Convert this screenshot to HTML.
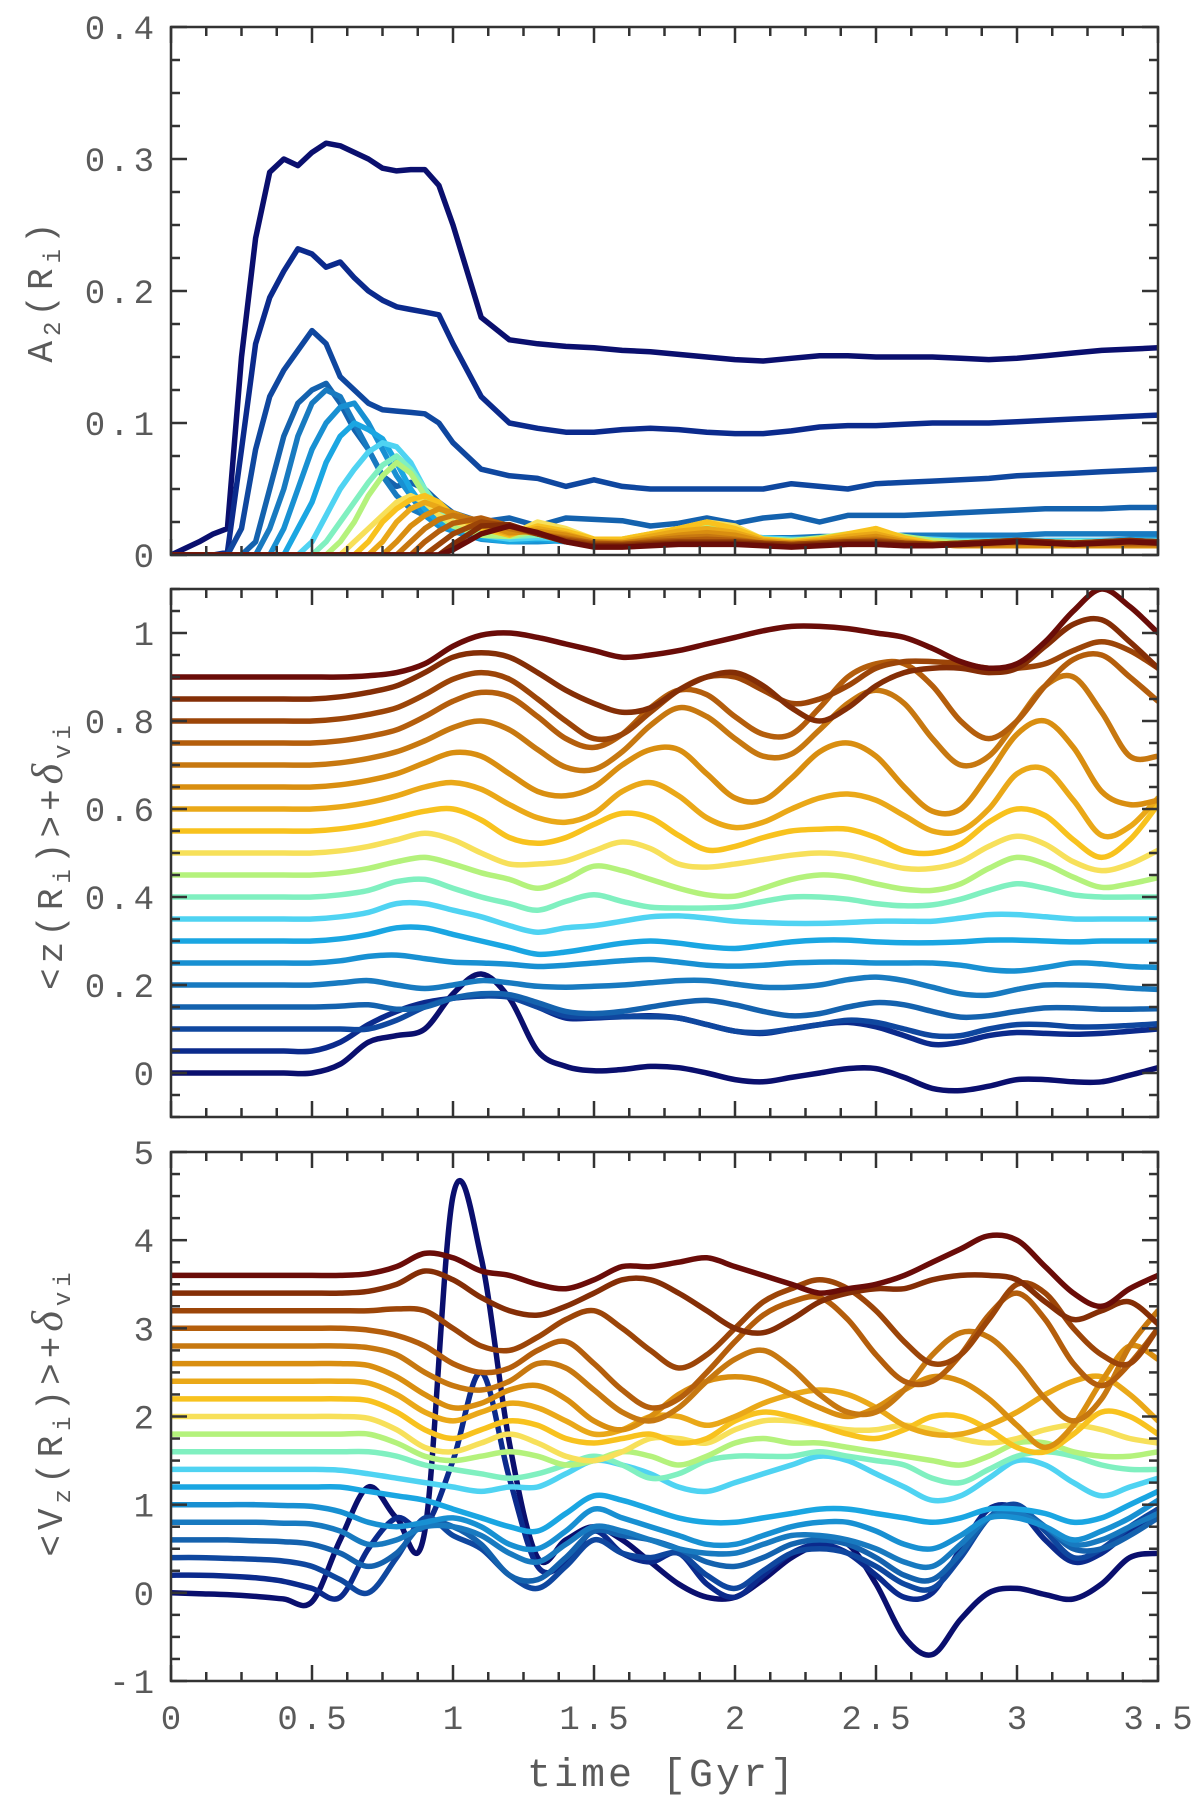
<!DOCTYPE html>
<html><head><meta charset="utf-8"><style>
html,body{margin:0;padding:0;background:#fff;}
svg{display:block;}
text{font-family:"Liberation Mono",monospace;fill:#5a5a5a;}
</style></head><body>
<svg id="chart" width="1200" height="1797" viewBox="0 0 1200 1797" xmlns="http://www.w3.org/2000/svg">
<defs>
<clipPath id="c1"><rect x="171" y="27" width="987" height="528"/></clipPath>
<clipPath id="c2"><rect x="171" y="589" width="987" height="528"/></clipPath>
<clipPath id="c3"><rect x="171" y="1152" width="987" height="529"/></clipPath>
</defs>
<g id="p1"></g>
<g id="p2"></g>
<g id="p3"></g>
<text transform="translate(52,290) rotate(-90)" text-anchor="middle" font-size="36" letter-spacing="5">A<tspan font-size="24" dy="8">2</tspan><tspan dy="-8">(R</tspan><tspan font-size="24" dy="8">i</tspan><tspan dy="-8">)</tspan></text>
<text transform="translate(62,855) rotate(-90)" text-anchor="middle" font-size="36" letter-spacing="5">&lt;z(R<tspan font-size="24" dy="8">i</tspan><tspan dy="-8">)&gt;+</tspan><tspan font-family="Liberation Serif, serif" font-style="italic" font-size="44">δ</tspan><tspan font-size="24" dy="8">vi</tspan></text>
<text transform="translate(62,1412) rotate(-90)" text-anchor="middle" font-size="36" letter-spacing="5">&lt;V<tspan font-size="24" dy="8">z</tspan><tspan dy="-8">(R</tspan><tspan font-size="24" dy="8">i</tspan><tspan dy="-8">)&gt;+</tspan><tspan font-family="Liberation Serif, serif" font-style="italic" font-size="44">δ</tspan><tspan font-size="24" dy="8">vi</tspan></text>
<text x="662" y="1786" text-anchor="middle" font-size="40" letter-spacing="3">time [Gyr]</text>
</svg>
<script>
// ---------- data ----------
const T1 = [0,0.05,0.1,0.15,0.2,0.25,0.3,0.35,0.4,0.45,0.5,0.55,0.6,0.65,0.7,0.75,0.8,0.85,0.9,0.95,1.0,1.1,1.2,1.3,1.4,1.5,1.6,1.7,1.8,1.9,2.0,2.1,2.2,2.3,2.4,2.5,2.6,2.7,2.8,2.9,3.0,3.1,3.2,3.3,3.4,3.5];
const T = [0,0.1,0.2,0.3,0.4,0.5,0.6,0.7,0.8,0.9,1.0,1.1,1.2,1.3,1.4,1.5,1.6,1.7,1.8,1.9,2.0,2.1,2.2,2.3,2.4,2.5,2.6,2.7,2.8,2.9,3.0,3.1,3.2,3.3,3.4,3.5];

const a2_0 = [0,0.005,0.01,0.016,0.02,0.15,0.24,0.29,0.3,0.295,0.305,0.312,0.31,0.305,0.3,0.293,0.291,0.292,0.292,0.28,0.25,0.18,0.163,0.16,0.158,0.157,0.155,0.154,0.152,0.15,0.148,0.147,0.149,0.151,0.151,0.15,0.15,0.15,0.149,0.148,0.149,0.151,0.153,0.155,0.156,0.157];
const a2_1 = [0,0,0,0,0.002,0.08,0.16,0.195,0.215,0.232,0.228,0.218,0.222,0.21,0.2,0.193,0.188,0.186,0.184,0.182,0.16,0.12,0.1,0.096,0.093,0.093,0.095,0.096,0.095,0.093,0.092,0.092,0.094,0.097,0.098,0.098,0.099,0.1,0.1,0.1,0.101,0.102,0.103,0.104,0.105,0.106];
const a2_2 = [0,0,0,0,0,0.02,0.08,0.12,0.14,0.155,0.17,0.16,0.135,0.125,0.115,0.11,0.109,0.108,0.107,0.1,0.085,0.065,0.06,0.058,0.052,0.057,0.052,0.05,0.05,0.05,0.05,0.05,0.054,0.052,0.05,0.054,0.055,0.056,0.057,0.058,0.06,0.061,0.062,0.063,0.064,0.065];
const a2_3 = [0,0,0,0,0,0,0.01,0.05,0.09,0.115,0.125,0.13,0.115,0.095,0.08,0.06,0.052,0.055,0.05,0.04,0.032,0.025,0.028,0.022,0.028,0.027,0.026,0.022,0.024,0.028,0.024,0.028,0.03,0.025,0.03,0.03,0.03,0.031,0.032,0.033,0.034,0.035,0.035,0.035,0.036,0.036];
const a2_4 = [0,0,0,0,0,0,0,0.02,0.05,0.09,0.115,0.125,0.12,0.1,0.08,0.06,0.045,0.035,0.03,0.025,0.02,0.015,0.012,0.012,0.013,0.012,0.012,0.013,0.012,0.013,0.014,0.013,0.013,0.014,0.014,0.014,0.015,0.015,0.015,0.015,0.015,0.016,0.016,0.016,0.016,0.016];
const a2_5 = [0,0,0,0,0,0,0,0,0.02,0.05,0.08,0.1,0.112,0.115,0.1,0.08,0.06,0.045,0.03,0.022,0.018,0.012,0.01,0.01,0.011,0.01,0.01,0.01,0.011,0.012,0.011,0.01,0.01,0.01,0.011,0.011,0.01,0.01,0.01,0.01,0.011,0.011,0.011,0.011,0.012,0.012];
const a2_6 = [0,0,0,0,0,0,0,0,0,0.02,0.04,0.07,0.09,0.1,0.095,0.088,0.07,0.05,0.035,0.025,0.02,0.013,0.01,0.012,0.01,0.009,0.01,0.01,0.012,0.013,0.012,0.01,0.01,0.012,0.013,0.012,0.01,0.01,0.01,0.011,0.011,0.01,0.01,0.011,0.011,0.011];
const a2_7 = [0,0,0,0,0,0,0,0,0,0,0.01,0.03,0.05,0.065,0.078,0.085,0.082,0.07,0.05,0.035,0.025,0.015,0.012,0.013,0.012,0.012,0.012,0.013,0.014,0.015,0.015,0.013,0.012,0.012,0.013,0.014,0.013,0.012,0.011,0.011,0.011,0.011,0.011,0.011,0.011,0.011];
const a2_8 = [0,0,0,0,0,0,0,0,0,0,0,0.01,0.025,0.04,0.055,0.068,0.075,0.065,0.05,0.035,0.025,0.016,0.014,0.015,0.013,0.011,0.012,0.014,0.016,0.017,0.015,0.012,0.011,0.012,0.014,0.015,0.013,0.011,0.01,0.01,0.01,0.01,0.01,0.01,0.01,0.01];
const a2_9 = [0,0,0,0,0,0,0,0,0,0,0,0,0.01,0.025,0.045,0.06,0.07,0.062,0.045,0.03,0.022,0.015,0.014,0.018,0.015,0.011,0.012,0.016,0.02,0.022,0.018,0.012,0.011,0.013,0.016,0.018,0.014,0.011,0.009,0.009,0.009,0.009,0.009,0.009,0.009,0.009];
const a2_10 = [0,0,0,0,0,0,0,0,0,0,0,0,0,0.01,0.02,0.03,0.04,0.045,0.04,0.03,0.025,0.02,0.015,0.025,0.02,0.012,0.012,0.016,0.02,0.025,0.022,0.012,0.01,0.012,0.015,0.02,0.012,0.009,0.008,0.008,0.008,0.008,0.008,0.008,0.008,0.008];
const a2_11 = [0,0,0,0,0,0,0,0,0,0,0,0,0,0,0.01,0.025,0.035,0.042,0.045,0.04,0.03,0.02,0.015,0.022,0.018,0.012,0.012,0.016,0.02,0.025,0.02,0.012,0.01,0.012,0.016,0.02,0.013,0.009,0.008,0.008,0.008,0.008,0.008,0.008,0.008,0.008];
const a2_12 = [0,0,0,0,0,0,0,0,0,0,0,0,0,0,0,0.01,0.025,0.035,0.04,0.036,0.03,0.022,0.016,0.02,0.016,0.01,0.01,0.014,0.018,0.02,0.017,0.011,0.009,0.011,0.014,0.016,0.011,0.008,0.007,0.007,0.007,0.007,0.007,0.007,0.007,0.007];
const a2_13 = [0,0,0,0,0,0,0,0,0,0,0,0,0,0,0,0,0.01,0.022,0.03,0.035,0.032,0.024,0.017,0.018,0.015,0.01,0.009,0.012,0.015,0.017,0.015,0.01,0.009,0.01,0.012,0.014,0.01,0.008,0.007,0.007,0.007,0.007,0.007,0.007,0.007,0.007];
const a2_14 = [0,0,0,0,0,0,0,0,0,0,0,0,0,0,0,0,0,0.01,0.02,0.027,0.03,0.026,0.02,0.016,0.013,0.009,0.009,0.011,0.013,0.014,0.012,0.009,0.008,0.009,0.011,0.012,0.009,0.008,0.007,0.008,0.009,0.009,0.008,0.008,0.008,0.008];
const a2_15 = [0,0,0,0,0,0,0,0,0,0,0,0,0,0,0,0,0,0,0.01,0.018,0.024,0.028,0.022,0.016,0.012,0.009,0.008,0.01,0.011,0.012,0.011,0.009,0.008,0.009,0.01,0.011,0.009,0.008,0.008,0.009,0.01,0.01,0.009,0.009,0.009,0.009];
const a2_16 = [0,0,0,0,0,0,0,0,0,0,0,0,0,0,0,0,0,0,0,0.008,0.016,0.025,0.022,0.016,0.011,0.008,0.008,0.009,0.01,0.01,0.01,0.009,0.008,0.009,0.01,0.01,0.009,0.008,0.009,0.01,0.011,0.01,0.009,0.01,0.011,0.01];
const a2_17 = [0,0,0,0,0,0,0,0,0,0,0,0,0,0,0,0,0,0,0,0,0.008,0.022,0.023,0.016,0.01,0.007,0.007,0.008,0.009,0.009,0.009,0.008,0.007,0.008,0.009,0.009,0.008,0.008,0.009,0.01,0.011,0.01,0.009,0.01,0.011,0.01];
const a2_18 = [0,0,0,0,0,0,0,0,0,0,0,0,0,0,0,0,0,0,0,0,0.004,0.016,0.022,0.017,0.01,0.006,0.006,0.007,0.008,0.008,0.008,0.007,0.006,0.007,0.008,0.008,0.007,0.007,0.008,0.009,0.01,0.009,0.008,0.009,0.01,0.009];

const z_0 = [0,0,0,0,0,0,0.02,0.07,0.085,0.1,0.18,0.225,0.17,0.05,0.015,0.005,0.008,0.015,0.012,0,-0.015,-0.02,-0.01,0,0.01,0.01,-0.01,-0.035,-0.04,-0.03,-0.015,-0.015,-0.02,-0.02,-0.005,0.012];
const z_1 = [0.05,0.05,0.05,0.05,0.05,0.05,0.07,0.11,0.14,0.16,0.17,0.175,0.175,0.15,0.125,0.125,0.128,0.13,0.125,0.11,0.095,0.09,0.1,0.11,0.115,0.105,0.085,0.065,0.07,0.085,0.092,0.09,0.088,0.09,0.095,0.1];
const z_2 = [0.1,0.1,0.1,0.1,0.1,0.1,0.1,0.1,0.12,0.15,0.17,0.175,0.172,0.15,0.13,0.128,0.128,0.128,0.125,0.11,0.095,0.092,0.1,0.11,0.12,0.115,0.1,0.085,0.085,0.1,0.11,0.11,0.105,0.105,0.108,0.112];
const z_3 = [0.15,0.15,0.15,0.15,0.15,0.15,0.152,0.155,0.145,0.15,0.17,0.18,0.178,0.16,0.14,0.135,0.14,0.15,0.16,0.165,0.155,0.14,0.13,0.135,0.15,0.16,0.155,0.14,0.127,0.13,0.14,0.148,0.148,0.145,0.145,0.146];
const z_4 = [0.2,0.2,0.2,0.2,0.2,0.2,0.205,0.21,0.2,0.192,0.2,0.21,0.205,0.197,0.195,0.197,0.2,0.205,0.21,0.21,0.202,0.195,0.195,0.2,0.212,0.218,0.21,0.195,0.18,0.177,0.19,0.2,0.2,0.198,0.193,0.19];
const z_5 = [0.25,0.25,0.25,0.25,0.25,0.25,0.255,0.265,0.268,0.26,0.252,0.25,0.247,0.242,0.245,0.25,0.255,0.258,0.252,0.245,0.243,0.245,0.25,0.252,0.252,0.25,0.25,0.25,0.245,0.235,0.232,0.24,0.25,0.248,0.242,0.24];
const z_6 = [0.3,0.3,0.3,0.3,0.3,0.3,0.305,0.315,0.33,0.33,0.315,0.3,0.285,0.27,0.275,0.285,0.295,0.3,0.295,0.287,0.283,0.29,0.298,0.302,0.302,0.298,0.296,0.296,0.298,0.302,0.302,0.3,0.298,0.3,0.3,0.3];
const z_7 = [0.35,0.35,0.35,0.35,0.35,0.35,0.355,0.365,0.385,0.385,0.37,0.355,0.335,0.32,0.33,0.335,0.345,0.355,0.357,0.352,0.345,0.342,0.34,0.34,0.342,0.345,0.345,0.345,0.352,0.36,0.36,0.355,0.35,0.35,0.35,0.35];
const z_8 = [0.4,0.4,0.4,0.4,0.4,0.4,0.405,0.415,0.435,0.44,0.42,0.4,0.385,0.37,0.39,0.405,0.39,0.377,0.375,0.375,0.378,0.39,0.4,0.4,0.395,0.385,0.38,0.382,0.395,0.415,0.43,0.42,0.405,0.4,0.4,0.4];
const z_9 = [0.45,0.45,0.45,0.45,0.45,0.45,0.455,0.465,0.48,0.49,0.475,0.455,0.44,0.42,0.44,0.47,0.46,0.44,0.42,0.405,0.402,0.42,0.44,0.45,0.445,0.43,0.418,0.415,0.43,0.465,0.49,0.475,0.445,0.422,0.43,0.444];
const z_10 = [0.5,0.5,0.5,0.5,0.5,0.5,0.505,0.515,0.53,0.545,0.53,0.5,0.475,0.475,0.482,0.505,0.525,0.51,0.475,0.468,0.475,0.485,0.495,0.5,0.495,0.48,0.465,0.465,0.48,0.515,0.538,0.52,0.48,0.46,0.475,0.506];
const z_11 = [0.55,0.55,0.55,0.55,0.55,0.55,0.555,0.565,0.58,0.595,0.6,0.575,0.535,0.522,0.535,0.565,0.59,0.58,0.54,0.507,0.515,0.535,0.55,0.554,0.554,0.535,0.505,0.5,0.52,0.57,0.6,0.585,0.53,0.49,0.53,0.61];
const z_12 = [0.6,0.6,0.6,0.6,0.6,0.6,0.605,0.615,0.63,0.65,0.66,0.645,0.61,0.58,0.57,0.59,0.64,0.66,0.63,0.58,0.558,0.57,0.6,0.625,0.634,0.62,0.585,0.55,0.55,0.6,0.68,0.69,0.62,0.54,0.56,0.625];
const z_13 = [0.65,0.65,0.65,0.65,0.65,0.65,0.655,0.665,0.68,0.705,0.728,0.72,0.68,0.64,0.63,0.65,0.7,0.735,0.735,0.68,0.625,0.62,0.67,0.73,0.75,0.72,0.65,0.595,0.6,0.68,0.77,0.8,0.74,0.64,0.61,0.62];
const z_14 = [0.7,0.7,0.7,0.7,0.7,0.7,0.705,0.715,0.73,0.755,0.785,0.8,0.78,0.735,0.695,0.69,0.73,0.79,0.83,0.81,0.76,0.72,0.725,0.78,0.84,0.87,0.84,0.76,0.7,0.72,0.8,0.88,0.9,0.82,0.72,0.72];
const z_15 = [0.75,0.75,0.75,0.75,0.75,0.75,0.755,0.765,0.78,0.81,0.845,0.865,0.855,0.81,0.76,0.74,0.77,0.83,0.87,0.86,0.81,0.77,0.77,0.83,0.9,0.93,0.93,0.88,0.8,0.76,0.8,0.88,0.94,0.95,0.9,0.845];
const z_16 = [0.8,0.8,0.8,0.8,0.8,0.8,0.805,0.815,0.83,0.86,0.895,0.91,0.895,0.85,0.8,0.76,0.77,0.82,0.87,0.9,0.9,0.87,0.84,0.85,0.88,0.92,0.935,0.935,0.93,0.92,0.92,0.93,0.96,0.98,0.96,0.92];
const z_17 = [0.85,0.85,0.85,0.85,0.85,0.85,0.855,0.865,0.88,0.91,0.945,0.955,0.945,0.91,0.87,0.84,0.82,0.83,0.87,0.9,0.91,0.88,0.83,0.8,0.83,0.88,0.91,0.92,0.92,0.91,0.92,0.97,1.02,1.03,0.98,0.92];
const z_18 = [0.9,0.9,0.9,0.9,0.9,0.9,0.9,0.903,0.91,0.93,0.97,0.995,1.0,0.99,0.975,0.96,0.945,0.95,0.96,0.975,0.99,1.005,1.015,1.015,1.01,1.0,0.99,0.965,0.935,0.92,0.93,0.98,1.05,1.1,1.06,1.0];

const vz_0 = [0,-0.01,-0.02,-0.04,-0.07,-0.1,0.6,1.2,0.85,0.7,4.5,3.8,1.7,0.4,0.6,0.75,0.6,0.35,0.1,-0.05,-0.05,0.15,0.4,0.55,0.55,0.1,-0.5,-0.7,-0.3,0.0,0.05,-0.02,-0.07,0.1,0.4,0.45];
const vz_1 = [0.2,0.2,0.19,0.17,0.13,0.05,-0.05,0.5,0.85,0.75,1.5,2.5,1.3,0.3,0.35,0.7,0.45,0.35,0.45,0.1,-0.05,0.2,0.45,0.55,0.45,0.2,-0.05,0.0,0.5,0.95,0.95,0.6,0.35,0.45,0.7,0.9];
const vz_2 = [0.4,0.4,0.39,0.38,0.36,0.3,0.15,0.0,0.4,0.85,0.65,0.5,0.2,0.05,0.3,0.6,0.45,0.4,0.45,0.2,0.05,0.25,0.45,0.5,0.45,0.3,0.1,0.05,0.4,0.85,1.0,0.7,0.4,0.5,0.75,0.95];
const vz_3 = [0.6,0.6,0.6,0.59,0.58,0.55,0.45,0.3,0.45,0.8,0.75,0.55,0.2,0.15,0.4,0.7,0.65,0.6,0.5,0.35,0.3,0.4,0.55,0.6,0.55,0.4,0.2,0.15,0.45,0.85,0.95,0.75,0.5,0.5,0.65,0.85];
const vz_4 = [0.8,0.8,0.8,0.8,0.79,0.78,0.7,0.55,0.6,0.75,0.75,0.65,0.45,0.35,0.55,0.75,0.7,0.6,0.5,0.45,0.45,0.55,0.65,0.65,0.6,0.5,0.35,0.3,0.55,0.85,0.9,0.75,0.55,0.6,0.75,0.9];
const vz_5 = [1.0,1.0,1.0,1.0,0.99,0.98,0.92,0.8,0.75,0.8,0.85,0.75,0.55,0.5,0.7,0.95,0.85,0.75,0.65,0.55,0.55,0.65,0.75,0.8,0.8,0.7,0.55,0.5,0.65,0.85,0.85,0.75,0.6,0.7,0.85,1.05];
const vz_6 = [1.2,1.2,1.2,1.2,1.2,1.2,1.2,1.15,1.1,1.05,0.95,0.85,0.75,0.7,0.9,1.1,1.05,0.95,0.85,0.8,0.8,0.85,0.9,0.95,0.95,0.9,0.85,0.8,0.85,0.95,0.95,0.9,0.8,0.85,1.0,1.15];
const vz_7 = [1.4,1.4,1.4,1.4,1.4,1.4,1.39,1.35,1.3,1.25,1.2,1.15,1.2,1.2,1.35,1.5,1.45,1.35,1.2,1.15,1.25,1.35,1.45,1.55,1.5,1.35,1.2,1.05,1.1,1.3,1.5,1.45,1.25,1.1,1.2,1.3];
const vz_8 = [1.6,1.6,1.6,1.6,1.6,1.6,1.6,1.6,1.55,1.45,1.4,1.35,1.3,1.35,1.45,1.55,1.45,1.3,1.35,1.5,1.55,1.55,1.55,1.6,1.55,1.5,1.45,1.3,1.25,1.4,1.55,1.6,1.55,1.45,1.4,1.4];
const vz_9 = [1.8,1.8,1.8,1.8,1.8,1.8,1.8,1.8,1.7,1.55,1.5,1.55,1.6,1.55,1.45,1.5,1.6,1.55,1.45,1.55,1.7,1.75,1.7,1.7,1.65,1.6,1.55,1.5,1.45,1.55,1.7,1.7,1.6,1.55,1.55,1.6];
const vz_10 = [2.0,2.0,2.0,2.0,2.0,2.0,2.0,1.98,1.85,1.65,1.6,1.7,1.8,1.7,1.55,1.5,1.6,1.75,1.75,1.7,1.85,1.95,1.95,1.9,1.85,1.85,1.9,1.85,1.75,1.7,1.75,1.85,1.9,1.85,1.75,1.7];
const vz_11 = [2.2,2.2,2.2,2.2,2.2,2.2,2.2,2.18,2.05,1.85,1.75,1.85,1.95,1.9,1.75,1.7,1.75,1.8,1.7,1.75,1.95,2.05,2.0,1.9,1.8,1.75,1.85,2.0,2.0,1.85,1.65,1.6,1.8,2.05,2.0,1.8];
const vz_12 = [2.4,2.4,2.4,2.4,2.4,2.4,2.4,2.38,2.25,2.05,1.95,2.05,2.15,2.1,1.95,1.8,1.85,2.0,2.0,1.9,2.0,2.15,2.25,2.3,2.25,2.1,1.9,1.8,1.8,1.9,2.05,2.25,2.4,2.45,2.25,1.95];
const vz_13 = [2.6,2.6,2.6,2.6,2.6,2.6,2.6,2.58,2.45,2.25,2.1,2.15,2.3,2.35,2.2,1.95,1.85,2.0,2.25,2.4,2.45,2.4,2.25,2.1,2.0,2.1,2.3,2.45,2.4,2.2,1.9,1.65,1.9,2.4,2.8,2.65];
const vz_14 = [2.8,2.8,2.8,2.8,2.8,2.8,2.8,2.78,2.7,2.5,2.35,2.3,2.4,2.6,2.55,2.3,2.05,1.95,2.1,2.4,2.65,2.75,2.55,2.25,2.05,2.05,2.3,2.7,2.95,2.9,2.6,2.2,1.95,2.2,2.8,3.2];
const vz_15 = [3.0,3.0,3.0,3.0,3.0,3.0,3.0,2.98,2.92,2.8,2.6,2.5,2.55,2.75,2.85,2.6,2.3,2.1,2.2,2.5,2.85,3.15,3.3,3.35,3.1,2.7,2.4,2.4,2.7,3.15,3.4,3.1,2.6,2.35,2.6,3.0];
const vz_16 = [3.2,3.2,3.2,3.2,3.2,3.2,3.2,3.2,3.22,3.2,3.0,2.8,2.75,2.9,3.1,3.2,3.0,2.75,2.55,2.7,3.0,3.3,3.45,3.55,3.45,3.2,2.85,2.6,2.7,3.1,3.5,3.4,3.0,2.7,2.6,3.0];
const vz_17 = [3.4,3.4,3.4,3.4,3.4,3.4,3.4,3.42,3.5,3.65,3.55,3.35,3.2,3.15,3.25,3.4,3.55,3.55,3.4,3.2,3.0,2.95,3.1,3.3,3.4,3.45,3.45,3.55,3.6,3.6,3.55,3.3,3.1,3.2,3.3,3.05];
const vz_18 = [3.6,3.6,3.6,3.6,3.6,3.6,3.6,3.62,3.7,3.85,3.8,3.65,3.6,3.5,3.45,3.55,3.7,3.7,3.75,3.8,3.7,3.6,3.5,3.4,3.45,3.5,3.6,3.75,3.9,4.05,4.0,3.7,3.4,3.25,3.45,3.6];

const A2 = [a2_0,a2_1,a2_2,a2_3,a2_4,a2_5,a2_6,a2_7,a2_8,a2_9,a2_10,a2_11,a2_12,a2_13,a2_14,a2_15,a2_16,a2_17,a2_18];
const Z = [z_0,z_1,z_2,z_3,z_4,z_5,z_6,z_7,z_8,z_9,z_10,z_11,z_12,z_13,z_14,z_15,z_16,z_17,z_18];
const VZ = [vz_0,vz_1,vz_2,vz_3,vz_4,vz_5,vz_6,vz_7,vz_8,vz_9,vz_10,vz_11,vz_12,vz_13,vz_14,vz_15,vz_16,vz_17,vz_18];

const xTicks = [0,0.5,1,1.5,2,2.5,3,3.5];
const xTickLabels = ["0","0.5","1","1.5","2","2.5","3","3.5"];
const a2Ticks = [0,0.1,0.2,0.3,0.4];
const a2TickLabels = ["0","0.1","0.2","0.3","0.4"];
const zTicks = [0,0.2,0.4,0.6,0.8,1];
const zTickLabels = ["0","0.2","0.4","0.6","0.8","1"];
const vzTicks = [-1,0,1,2,3,4,5];
const vzTickLabels = ["-1","0","1","2","3","4","5"];

// ---------- style ----------
const COLORS = ["#0a0f6e","#0b2a8c","#0f479f","#1462ae","#187ac0","#1890d2","#1aa6e2","#4fd3f2","#80f0c0","#b4f27c","#f7e05a","#f8c21e","#eaa818","#d98e10","#c77810","#b45e0c","#9c4508","#842e06","#6a0c08"];
const SVGNS = "http://www.w3.org/2000/svg";
const X0 = 171, X1 = 1158;
function xs(t){ return X0 + (t/3.5)*(X1-X0); }

function el(tag, attrs, parent){
  const e = document.createElementNS(SVGNS, tag);
  for (const k in attrs) e.setAttribute(k, attrs[k]);
  parent.appendChild(e); return e;
}
function polyPath(ts, vs, ys){
  return ts.map((t,i)=>(i?"L":"M")+xs(t).toFixed(1)+","+ys(vs[i]).toFixed(1)).join("");
}
function smoothPath(ts, vs, ys){
  const p = ts.map((t,i)=>[xs(t), ys(vs[i])]);
  let d = "M"+p[0][0].toFixed(1)+","+p[0][1].toFixed(1);
  for (let i=0;i<p.length-1;i++){
    const p0=p[Math.max(0,i-1)], p1=p[i], p2=p[i+1], p3=p[Math.min(p.length-1,i+2)];
    const c1=[p1[0]+(p2[0]-p0[0])/6, p1[1]+(p2[1]-p0[1])/6];
    const c2=[p2[0]-(p3[0]-p1[0])/6, p2[1]-(p3[1]-p1[1])/6];
    d += "C"+c1[0].toFixed(1)+","+c1[1].toFixed(1)+" "+c2[0].toFixed(1)+","+c2[1].toFixed(1)+" "+p2[0].toFixed(1)+","+p2[1].toFixed(1);
  }
  return d;
}

function panel(g, name, top, bot, ymin, ymax, yMinorStep, yTicks, yLabels, ts, series, smooth, clip, showX){
  const ys = v => bot - (v-ymin)/(ymax-ymin)*(bot-top);
  const lines = el("g", {"clip-path":"url(#"+clip+")"}, g);
  
  
  series.forEach((s,i)=>{
    const p = el("path", {d: smooth?smoothPath(ts,s,ys):polyPath(ts,s,ys), fill:"none", stroke:COLORS[i], "stroke-width":5.5, "stroke-linejoin":"round", "stroke-linecap":"round"}, lines);
    
    
  });
  const ax = el("g", {stroke:"#333", "stroke-width":2.5}, g);
  
  
  for (let k=0;k<=28;k++){
    const t = k*0.125, x = xs(t), L = (k%4===0)?16:9;
    el("line",{x1:x,y1:bot,x2:x,y2:bot-L},ax);
    el("line",{x1:x,y1:top,x2:x,y2:top+L},ax);
  }
  const nMin = Math.round((ymax-ymin)/yMinorStep);
  for (let k=0;k<=nMin;k++){
    const v = ymin + k*yMinorStep, y = ys(v);
    const major = yTicks.some(m=>Math.abs(m-v)<1e-6);
    const L = major?16:9;
    el("line",{x1:X0,y1:y,x2:X0+L,y2:y},ax);
    el("line",{x1:X1,y1:y,x2:X1-L,y2:y},ax);
  }
  const fr = el("rect",{x:X0,y:top,width:X1-X0,height:bot-top,fill:"none"},ax);
  
  
  yTicks.forEach((v,i)=>{
    const tx = el("text",{x:158,y:ys(v)+12,"text-anchor":"end","font-size":34,"letter-spacing":4},g);
    tx.textContent = yLabels[i];
    
    
  });
  if (showX){
    xTicks.forEach((t,i)=>{
      const tx = el("text",{x:xs(t)+2,y:bot+48,"text-anchor":"middle","font-size":34,"letter-spacing":4},g);
      tx.textContent = xTickLabels[i];
      
      
    });
  }
}

panel(document.getElementById("p1"), "a2", 27, 555, 0, 0.4, 0.025, a2Ticks, a2TickLabels, T1, A2, false, "c1", false);
panel(document.getElementById("p2"), "z", 589, 1117, -0.1, 1.1, 0.05, zTicks, zTickLabels, T, Z, true, "c2", false);
panel(document.getElementById("p3"), "vz", 1152, 1681, -1, 5, 0.25, vzTicks, vzTickLabels, T, VZ, true, "c3", true);
</script>
</body></html>
